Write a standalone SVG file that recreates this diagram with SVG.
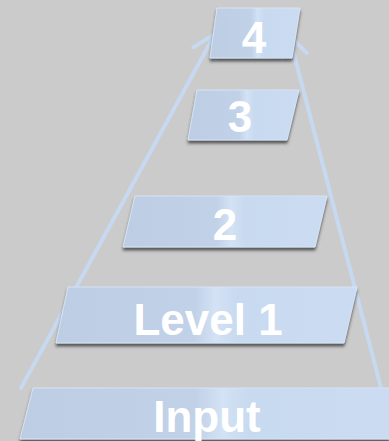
<svg xmlns="http://www.w3.org/2000/svg" width="389" height="441" viewBox="0 0 389 441">
  <defs>
    <linearGradient id="boxFill" x1="0" y1="0" x2="1" y2="0">
      <stop offset="0" stop-color="#bdcde3"/>
      <stop offset="0.46" stop-color="#c1d1e7"/>
      <stop offset="0.53" stop-color="#d3e2f4"/>
      <stop offset="0.6" stop-color="#c8daf0"/>
      <stop offset="1" stop-color="#cbdcf2"/>
    </linearGradient>
    <filter id="shadow" x="-10%" y="-20%" width="120%" height="150%">
      <feDropShadow dx="0" dy="3" stdDeviation="1.4" flood-color="#333333" flood-opacity="0.75"/>
    </filter>
    <marker id="openArrow" markerUnits="userSpaceOnUse" markerWidth="40" markerHeight="40" refX="0" refY="0" viewBox="-30 -20 40 40" orient="auto">
      <path d="M-22,-12.7 L0,0 L-22,12.7" fill="none" stroke="#c6d9f1" stroke-width="4" stroke-linecap="round" stroke-linejoin="round"/>
    </marker>
  </defs>
  <style>
    .tier { fill: url(#boxFill); stroke: #d6e4f6; stroke-width: 1; filter: url(#shadow); }
    .label { fill: #ffffff; font-family: "Liberation Sans", Arial, sans-serif; font-weight: bold; font-size: 44px; text-anchor: middle; }
    .link { fill: none; stroke: #c6d9f1; stroke-width: 4; stroke-linecap: round; marker-end: url(#openArrow); }
  </style>

  <rect width="389" height="441" fill="#cbcbcb"/>

  <!-- converging arrows behind the tiers -->
  <g id="connectors">
    <line class="link" x1="21" y1="388" x2="215" y2="34"/>
    <line class="link" x1="381" y1="388" x2="289" y2="35"/>
  </g>

  <g id="input">
    <polygon class="tier" points="33,388 402,388 389,439 20,439"/>
    <text class="label" x="207" y="432" font-size="42">Input</text>
  </g>

  <g id="level1">
    <polygon class="tier" points="68,287 357,287 344,343 56,343"/>
    <text class="label" x="208" y="335">Level 1</text>
  </g>

  <g id="level2">
    <polygon class="tier" points="135,196 327,196 315,247 123,247"/>
    <text class="label" x="225" y="240">2</text>
  </g>

  <g id="level3">
    <polygon class="tier" points="197,90 299,90 287,140 188,140"/>
    <text class="label" x="240" y="132">3</text>
  </g>

  <g id="level4">
    <polygon class="tier" points="217,8 300,8 292,58 210,58"/>
    <text class="label" x="254" y="53">4</text>
  </g>
</svg>
